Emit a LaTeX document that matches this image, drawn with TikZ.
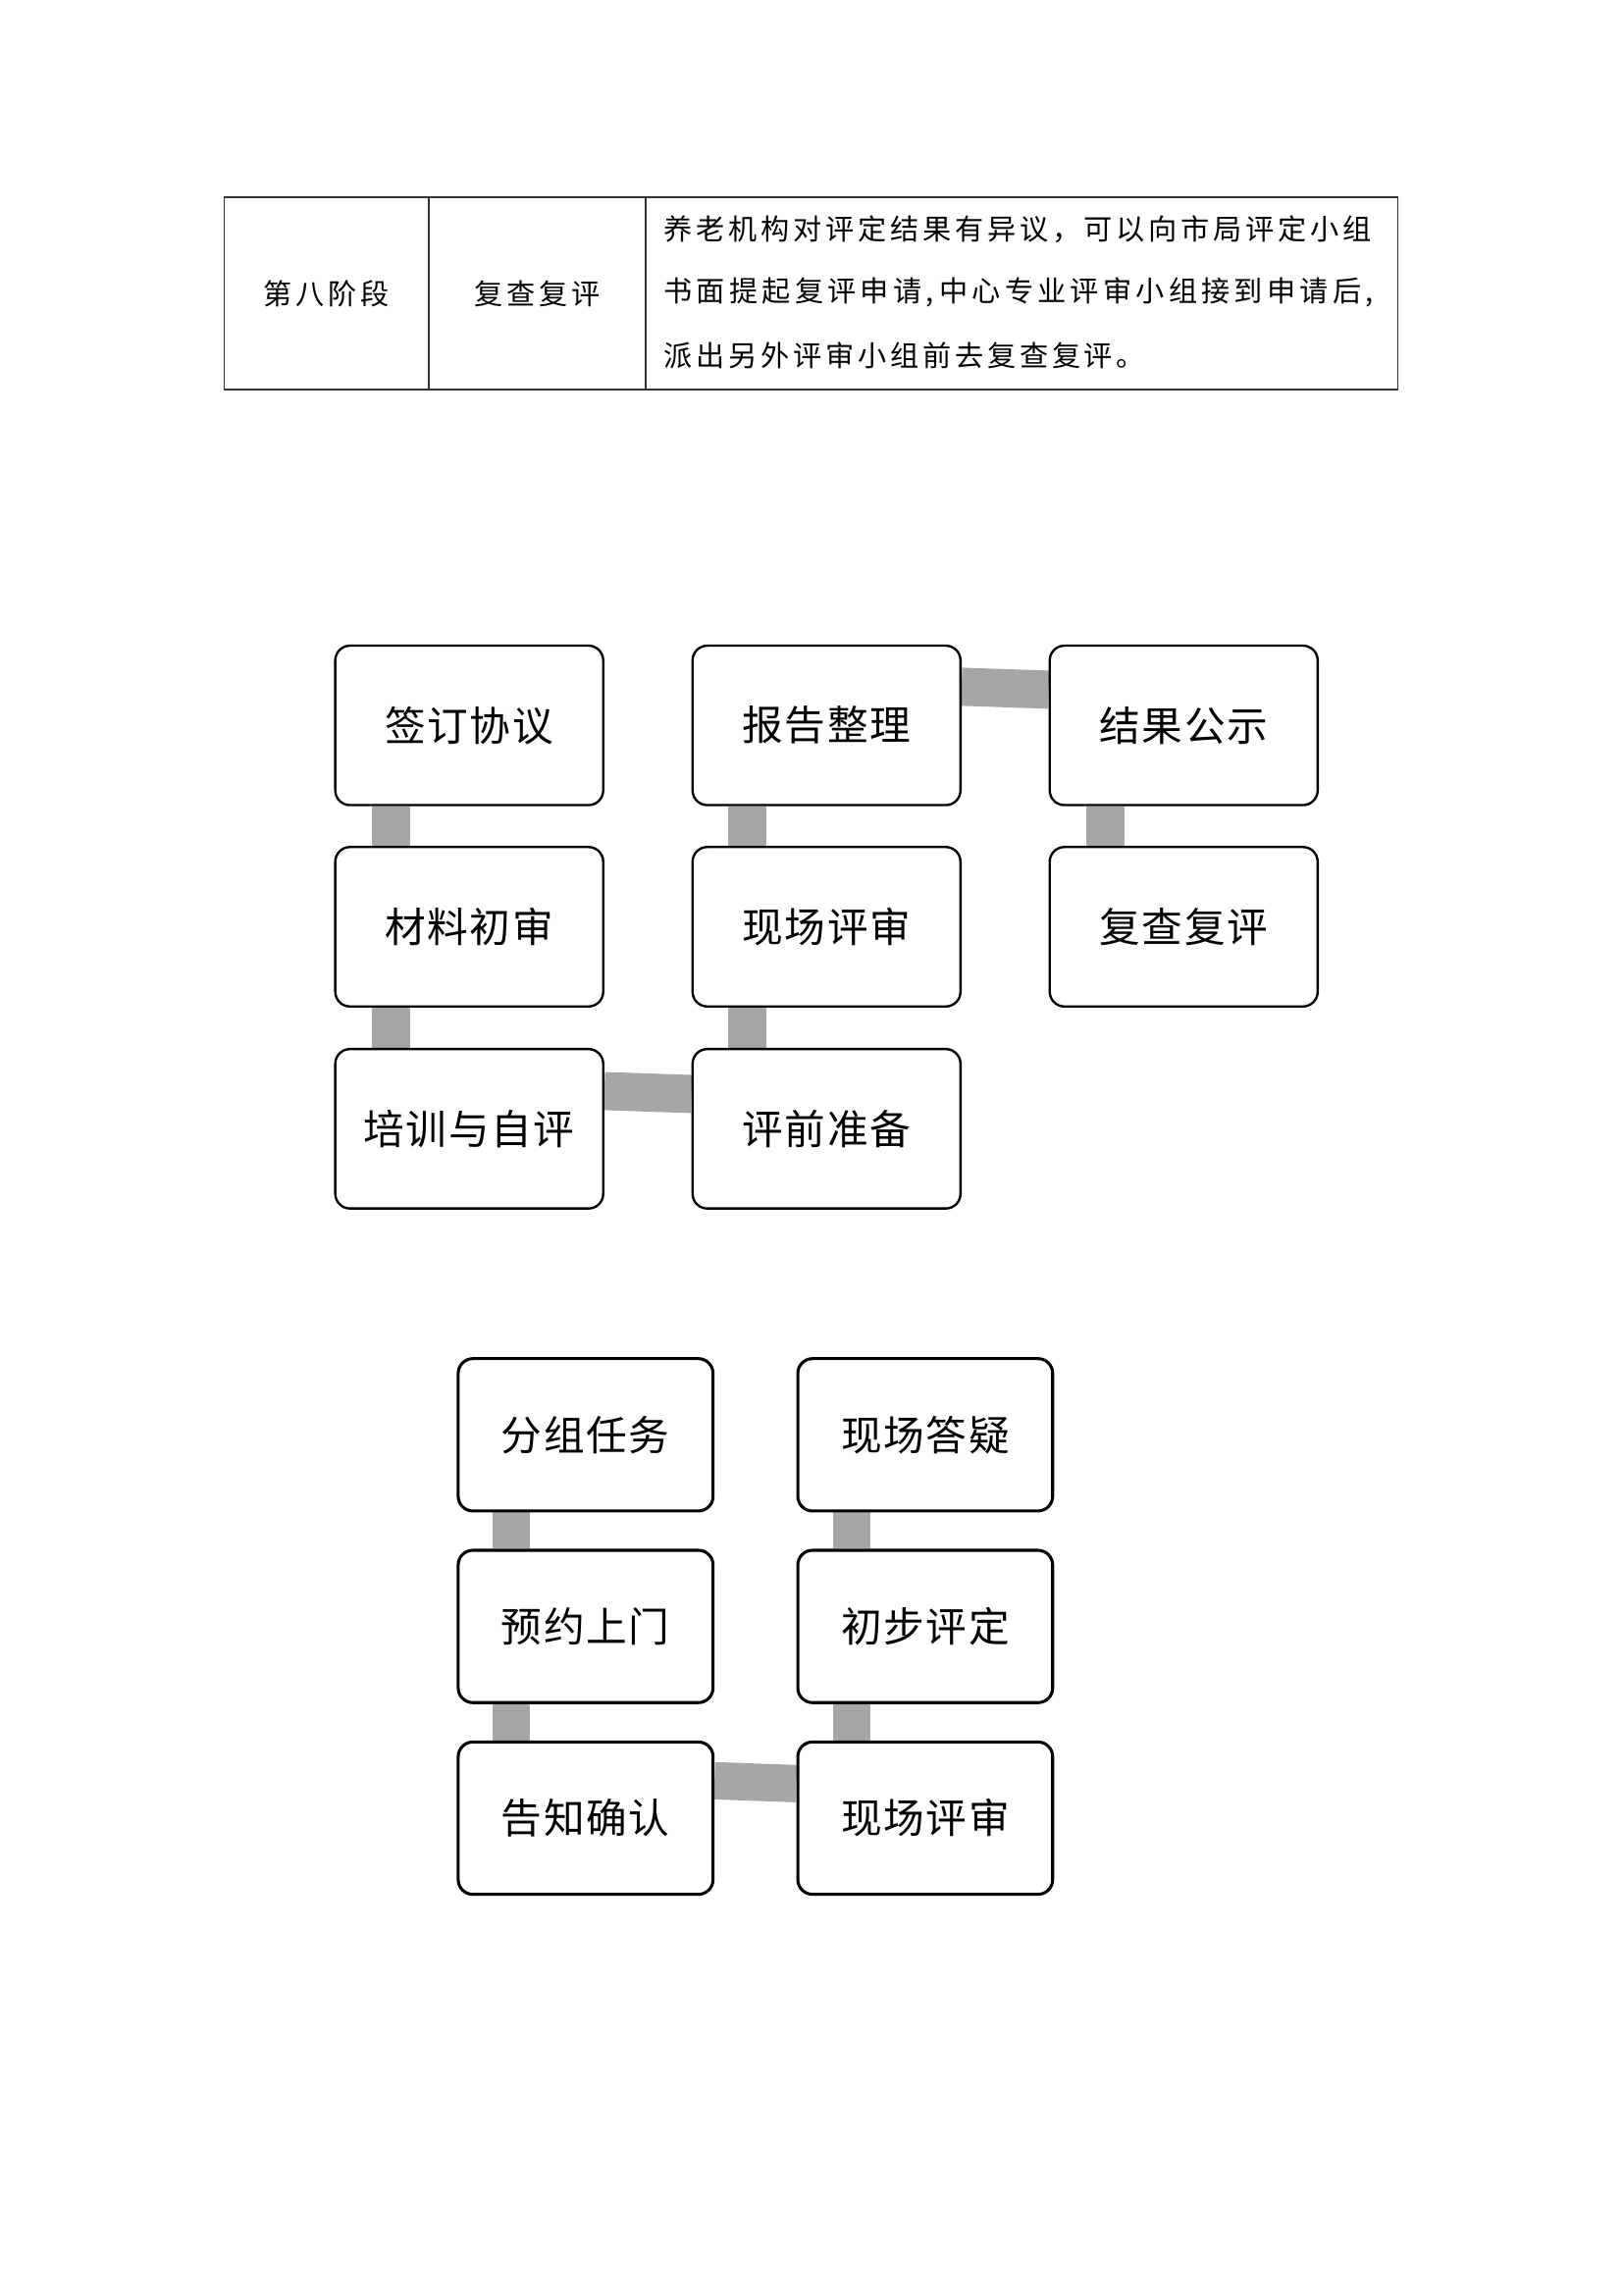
\documentclass[tikz,border=0pt]{standalone}
\usepackage{fontspec}
\newfontfamily\cjktab[LetterSpace=13]{Noto Sans CJK SC}
\newfontfamily\cjktabw[LetterSpace=14.5]{Noto Sans CJK SC}
\newfontfamily\cjkbox[LetterSpace=4]{Noto Sans CJK SC}
\usetikzlibrary{backgrounds,calc}
\definecolor{conngray}{HTML}{A6A6A6}
\tikzset{
  boxA/.style={draw=black, line width=0.85pt, rounded corners=5.4pt, fill=white,
    minimum width=98.3pt, minimum height=58.5pt, inner sep=0pt,
    font=\cjkbox\fontsize{15pt}{18pt}\selectfont},
  boxB/.style={boxA, line width=1.1pt, minimum width=93.5pt, minimum height=55.9pt},
  conn/.style={draw=conngray, line width=14pt, line cap=butt},
  conntwo/.style={conn, line width=13.7pt},
  tabtxt/.style={inner sep=0pt, font=\cjktab\fontsize{10.5pt}{12pt}\selectfont},
  tabtxtw/.style={inner sep=0pt, font=\cjktabw\fontsize{10.5pt}{12pt}\selectfont},
  tabline/.style={draw=black!80, line width=0.6pt},
}
\begin{document}
\begin{tikzpicture}[x=0.36pt, y=-0.36pt]
\useasboundingbox (0,0) rectangle (1654,2339);
% table
\draw[tabline] (228.5,201) rectangle (1424.5,397);
\draw[tabline] (437,201) -- (437,397);
\draw[tabline] (658,201) -- (658,397);
\node[tabtxt] (t1) at (332.7,299) {第八阶段};
\node[tabtxt] (t2) at (547.5,299) {复查复评};
\node[tabtxt, anchor=west] (p1) at (676,234) {养老机构对评定结果有异议，可以向市局评定小组};
\node[tabtxtw, anchor=west] (p2) at (676,298) {书面提起复评申请,\hspace{2pt}中心专业评审小组接到申请后,};
\node[tabtxt, anchor=west] (p3) at (676,362.5) {派出另外评审小组前去复查复评。};
% diagram 1
\node[boxA] (a1) at (478.2,739.3) {签订协议};
\node[boxA] (a2) at (478.2,944.5) {材料初审};
\node[boxA] (a3) at (478.2,1150.4) {培训与自评};
\node[boxA] (b1) at (842.3,739.3) {报告整理};
\node[boxA] (b2) at (842.3,944.5) {现场评审};
\node[boxA] (b3) at (842.3,1150.4) {评前准备};
\node[boxA] (c1) at (1206.3,739.3) {结果公示};
\node[boxA] (c2) at (1206.3,944.5) {复查复评};
% diagram 2
\node[boxB] (d1) at (596.8,1462.3) {分组任务};
\node[boxB] (d2) at (596.8,1657.6) {预约上门};
\node[boxB] (d3) at (596.8,1853) {告知确认};
\node[boxB] (e1) at (942.9,1462.3) {现场答疑};
\node[boxB] (e2) at (942.9,1657.6) {初步评定};
\node[boxB] (e3) at (942.9,1853) {现场评审};
\begin{scope}[on background layer]
\fill[white] (0,0) rectangle (1654,2339);
\draw[conn] ($(a1.south west)+(58,0)$) -- ($(a2.north west)+(58,0)$);
\draw[conn] ($(a2.south west)+(58,0)$) -- ($(a3.north west)+(58,0)$);
\draw[conn] ($(b1.south west)+(57,0)$) -- ($(b2.north west)+(57,0)$);
\draw[conn] ($(b2.south west)+(57,0)$) -- ($(b3.north west)+(57,0)$);
\draw[conn] ($(c1.south west)+(57.5,0)$) -- ($(c2.north west)+(57.5,0)$);
\draw[conn] ($(b1.north east)+(0,43)$) -- ($(c1.north west)+(0,46)$);
\draw[conn] ($(a3.north east)+(0,44)$) -- ($(b3.north west)+(0,47)$);
\draw[conntwo] ($(d1.south west)+(56,0)$) -- ($(d2.north west)+(56,0)$);
\draw[conntwo] ($(d2.south west)+(56,0)$) -- ($(d3.north west)+(56,0)$);
\draw[conntwo] ($(e1.south west)+(56.7,0)$) -- ($(e2.north west)+(56.7,0)$);
\draw[conntwo] ($(e2.south west)+(56.7,0)$) -- ($(e3.north west)+(56.7,0)$);
\draw[conntwo] ($(d3.north east)+(0,41)$) -- ($(e3.north west)+(0,44)$);
\end{scope}
\end{tikzpicture}
\end{document}
